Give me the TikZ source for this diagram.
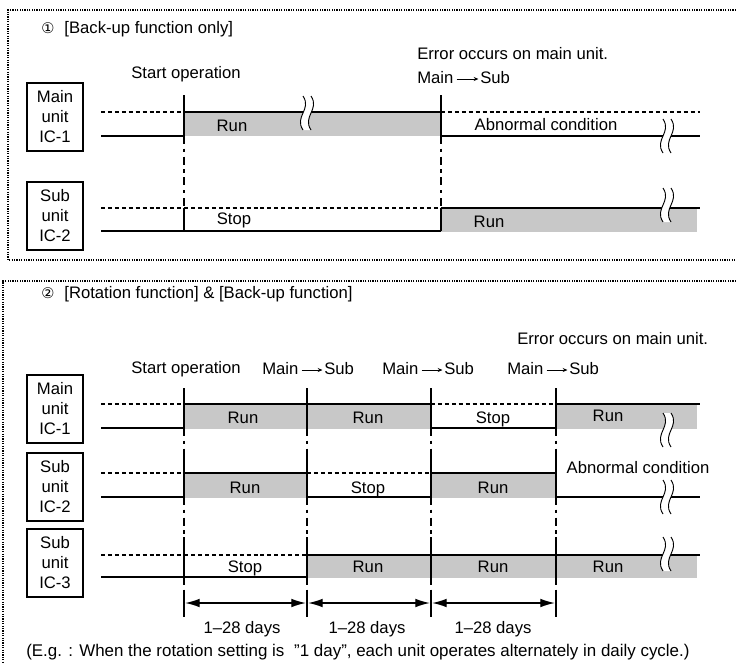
\documentclass[tikz,border=0pt]{standalone}
\usepackage{fontspec}
\setmainfont{Liberation Sans}
\newfontfamily\symfont{DejaVu Sans}
\usetikzlibrary{arrows.meta}
\definecolor{rungray}{RGB}{200,200,200}
\tikzset{
  brk/.pic={
    \fill[white] (-4,-17) .. controls (5,-3.4) and (-13,3.4) .. (-4,17) -- (4,17) .. controls (-5,3.4) and (13,-3.4) .. (4,-17) -- cycle;
    \draw[line width=0.7pt] (-4,-17) .. controls (5,-3.4) and (-13,3.4) .. (-4,17);
    \draw[line width=0.7pt] (4,-17) .. controls (13,-3.4) and (-5,3.4) .. (4,17);
  }
}
\begin{document}
\begin{tikzpicture}[x=0.75pt,y=-0.75pt,
  every node/.style={inner sep=0pt},
  lbl/.style={font=\fontsize{12.5}{15}\selectfont, text height=9pt, text depth=0pt},
  unitbox/.style={draw, line width=0.8pt, minimum width=42pt, minimum height=51pt, align=center, font=\fontsize{12.5}{15}\selectfont},
  solidlvl/.style={line width=1.7pt},
  dashlvl/.style={line width=1.7pt, dash pattern=on 3pt off 2.2pt},
  linkline/.style={line width=1.7pt, dash pattern=on 6pt off 3.5pt on 2.5pt off 3.5pt},
  runfill/.style={fill=rungray},
  frameline/.style={line width=0.9pt, dash pattern=on 0.9pt off 0.9pt},
  tharrow/.style={line width=0.5pt, -{Stealth[length=3.5pt,width=3pt]}, shorten <=2.2pt, shorten >=1.2pt},
  dimarrow/.style={line width=1pt, {Latex[length=11pt,width=6.5pt]}-{Latex[length=11pt,width=6.5pt]}, shorten <=0.8pt, shorten >=0.8pt}
]
\useasboundingbox (0,0) rectangle (736,664);

% ---------- frames ----------
\draw[frameline] (736,10) -- (8,10) -- (8,260) -- (736,260);
\draw[frameline] (736,281) -- (3,281) -- (3,664);

% ================= Section 1 =================
\fill[runfill] (184,112) rectangle (441,136);
\fill[runfill] (441,208) rectangle (697,232);
% main
\draw[dashlvl] (101,112) -- (184,112);
\draw[solidlvl] (101,136) -- (184,136);
\draw[solidlvl] (184,112) -- (441,112);
\draw[dashlvl] (441,112) -- (700,112);
\draw[solidlvl] (441,136) -- (700,136);
% sub
\draw[dashlvl] (101,208) -- (441,208);
\draw[solidlvl] (101,231) -- (441,231);
\draw[solidlvl] (441,208) -- (700,208);
% verticals
\foreach \x in {184,441} {
  \draw[solidlvl] (\x,95) -- (\x,136);
  \draw[linkline] (\x,136) -- (\x,208);
  \draw[solidlvl] (\x,208) -- (\x,231);
}
\pic at (307,113) {brk};
\pic at (667,136) {brk};
\pic at (667,205) {brk};

\node[lbl, anchor=west] (title1) at (41,27) {{\symfont\fontsize{11}{13}\selectfont ①}\hspace{0.6em}[Back-up function only]};
\node[unitbox] (u11) at (55,117) {Main\\unit\\IC-1};
\node[unitbox] (u12) at (55,216) {Sub\\unit\\IC-2};
\node[lbl] (so1) at (186,72) {Start operation};
\node[lbl, anchor=west] (err1) at (417,53) {Error occurs on main unit.};
\node[lbl, anchor=west, text height=6.5pt] (ms1) at (417,79) {Main};
\node[lbl, anchor=west, text height=6.5pt] (ss1) at (480,79) {Sub};
\draw[tharrow] (ms1) -- (ss1);
\node[lbl] (r11) at (232,125) {Run};
\node[lbl] (ab1) at (546,124) {Abnormal condition};
\node[lbl] (s12) at (234,218) {Stop};
\node[lbl] (r12) at (489,221) {Run};

% ================= Section 2 =================
\fill[runfill] (184,404) rectangle (431,429);
\fill[runfill] (556,404) rectangle (697,429);
\fill[runfill] (184,473) rectangle (307,498);
\fill[runfill] (431,473) rectangle (556,498);
\fill[runfill] (307,555) rectangle (697,578);
% IC-1
\draw[dashlvl] (101,404) -- (184,404);
\draw[solidlvl] (101,428) -- (184,428);
\draw[solidlvl] (184,404) -- (431,404);
\draw[dashlvl] (431,404) -- (556,404);
\draw[solidlvl] (431,428) -- (556,428);
\draw[solidlvl] (556,404) -- (700,404);
% IC-2
\draw[dashlvl] (101,473) -- (184,473);
\draw[solidlvl] (101,497) -- (184,497);
\draw[solidlvl] (184,473) -- (307,473);
\draw[dashlvl] (307,473) -- (431,473);
\draw[solidlvl] (307,497) -- (431,497);
\draw[solidlvl] (431,473) -- (556,473);
\draw[solidlvl] (556,497) -- (700,497);
% IC-3
\draw[dashlvl] (101,555) -- (307,555);
\draw[solidlvl] (101,577) -- (307,577);
\draw[solidlvl] (307,555) -- (700,555);
% verticals
\foreach \x in {184,307,431,556} {
  \draw[solidlvl] (\x,388) -- (\x,428);
  \draw[linkline] (\x,428) -- (\x,455);
  \draw[solidlvl] (\x,455) -- (\x,497);
  \draw[linkline] (\x,497) -- (\x,537);
  \draw[solidlvl] (\x,537) -- (\x,577);
  \draw[linkline] (\x,577) -- (\x,592);
  \draw[solidlvl] (\x,592) -- (\x,617);
}
\pic at (667,430) {brk};
\pic at (667,497) {brk};
\pic at (667,554) {brk};

\node[lbl, anchor=west] (title2) at (41,292) {{\symfont\fontsize{11}{13}\selectfont ②}\hspace{0.6em}[Rotation function] \& [Back-up function]};
\node[unitbox] (u21) at (55,409) {Main\\unit\\IC-1};
\node[unitbox] (u22) at (55,487) {Sub\\unit\\IC-2};
\node[unitbox] (u23) at (55,563) {Sub\\unit\\IC-3};
\node[lbl] (so2) at (186,367) {Start operation};
\node[lbl, anchor=west] (err2) at (517,338) {Error occurs on main unit.};
\node[lbl, anchor=west, text height=6.5pt] (ma) at (262,370) {Main};
\node[lbl, anchor=west, text height=6.5pt] (sa) at (324,370) {Sub};
\node[lbl, anchor=west, text height=6.5pt] (mb) at (382,370) {Main};
\node[lbl, anchor=west, text height=6.5pt] (sb) at (444,370) {Sub};
\node[lbl, anchor=west, text height=6.5pt] (mc) at (507,370) {Main};
\node[lbl, anchor=west, text height=6.5pt] (sc) at (569,370) {Sub};
\draw[tharrow] (ma) -- (sa);
\draw[tharrow] (mb) -- (sb);
\draw[tharrow] (mc) -- (sc);

\node[lbl] (r211) at (243,417) {Run};
\node[lbl] (r212) at (368,417) {Run};
\node[lbl] (s213) at (493,417) {Stop};
\node[lbl] (r214) at (608,415) {Run};
\node[lbl] (r221) at (245,487) {Run};
\node[lbl] (s222) at (368,487) {Stop};
\node[lbl] (r223) at (493,487) {Run};
\node[lbl] (ab2) at (638,467) {Abnormal condition};
\node[lbl] (s231) at (245,566) {Stop};
\node[lbl] (r232) at (368,566) {Run};
\node[lbl] (r233) at (493,566) {Run};
\node[lbl] (r234) at (608,566) {Run};

\coordinate (d1) at (184,603);
\coordinate (d2) at (307,603);
\coordinate (d3) at (431,603);
\coordinate (d4) at (556,603);
\draw[dimarrow] (d1) -- (d2);
\draw[dimarrow] (d2) -- (d3);
\draw[dimarrow] (d3) -- (d4);
\node[lbl] (day1) at (242,627) {1–28 days};
\node[lbl] (day2) at (367,627) {1–28 days};
\node[lbl] (day3) at (493,627) {1–28 days};

\node[lbl, anchor=west, font=\fontsize{12.7}{15}\selectfont] (note) at (26,650) {(E.g. : When the rotation setting is\hspace{0.3em} \char34 1 day\char34, each unit operates alternately in daily cycle.)};
\end{tikzpicture}
\end{document}
